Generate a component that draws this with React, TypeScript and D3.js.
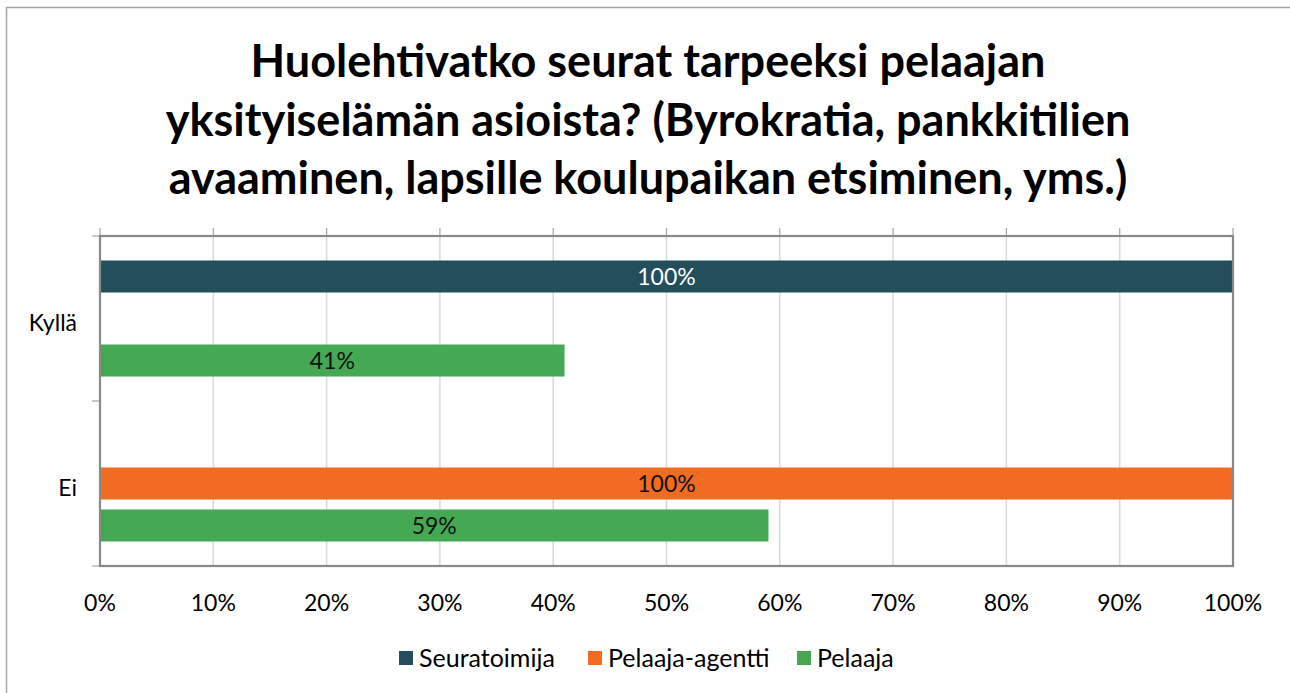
import React from "react";
import * as d3 from "d3";

const categories = ["Kyllä", "Ei"];
const seriesNames = ["Seuratoimija", "Pelaaja-agentti", "Pelaaja"];
const seriesColors = ["#234E5C", "#F26B23", "#45A853"];
const labelColors = ["#FFFFFF", "#111111", "#111111"];
const seuratoimija: (number | null)[] = [100, null];
const pelaajaAgentti: (number | null)[] = [null, 100];
const pelaaja: (number | null)[] = [41, 59];
const xTicks = [0, 10, 20, 30, 40, 50, 60, 70, 80, 90, 100];
const titleLines = [
  "Huolehtivatko seurat tarpeeksi pelaajan",
  "yksityiselämän asioista? (Byrokratia, pankkitilien",
  "avaaminen, lapsille koulupaikan etsiminen, yms.)",
];

const W = 1290;
const H = 693;
const FONT = "Lato, 'Open Sans', sans-serif";
const FS = 23;

export default function App() {
  const left = 100, right = 1233, top = 236, bottom = 566;
  const x = d3.scaleLinear().domain([0, 100]).range([left, right]);
  const y0 = d3.scaleBand<string>().domain(categories).range([top, bottom]).padding(0);
  const y1 = d3
    .scaleBand<string>()
    .domain(seriesNames)
    .range([0, y0.bandwidth()])
    .paddingInner(0.238)
    .paddingOuter(0.583);
  const seriesValues = [seuratoimija, pelaajaAgentti, pelaaja];

  const legendItems = [
    { x: 399, textX: 419 },
    { x: 588, textX: 608 },
    { x: 797, textX: 817 },
  ];

  return (
    <svg width={W} height={H} style={{ position: "absolute", left: 0, top: 0, background: "#fff" }}>
      <rect x={6.5} y={7.5} width={W} height={H} fill="#fff" stroke="#a6a6a6" strokeWidth={1.5} />
      {titleLines.map((t, i) => (
        <text
          key={i}
          x={648}
          y={77 + i * 58.5}
          textAnchor="middle"
          fontFamily={FONT}
          fontWeight="bold"
          fontSize={45}
          fill="#000"
        >
          {t}
        </text>
      ))}
      {/* gridlines */}
      {xTicks.map((t) => (
        <line key={"g" + t} x1={x(t)} x2={x(t)} y1={top} y2={bottom} stroke="#d9d9d9" strokeWidth={1.5} />
      ))}
      {/* top ticks */}
      {xTicks.map((t) => (
        <line key={"tt" + t} x1={x(t)} x2={x(t)} y1={top - 8} y2={top} stroke="#a6a6a6" strokeWidth={1.2} />
      ))}
      {/* left ticks */}
      {[top, top + y0.bandwidth(), bottom].map((v, i) => (
        <line key={"lt" + i} x1={left - 8} x2={left} y1={v} y2={v} stroke="#a6a6a6" strokeWidth={1.2} />
      ))}
      {/* bars */}
      {categories.map((c, ci) =>
        seriesNames.map((s, si) => {
          const v = seriesValues[si][ci];
          if (v === null || v === undefined) return null;
          const by = (y0(c) as number) + (y1(s) as number);
          const bh = y1.bandwidth();
          return (
            <g key={c + s}>
              <rect x={x(0)} y={by} width={x(v) - x(0)} height={bh} fill={seriesColors[si]} />
              <text
                x={(x(0) + x(v)) / 2}
                y={by + bh / 2}
                dy="0.36em"
                textAnchor="middle"
                fontFamily={FONT}
                fontSize={FS}
                fill={labelColors[si]}
              >
                {v}%
              </text>
            </g>
          );
        })
      )}
      {/* plot border */}
      <rect x={left} y={top} width={right - left} height={bottom - top} fill="none" stroke="#898989" strokeWidth={2.2} />
      {/* category labels */}
      {categories.map((c) => (
        <text
          key={c}
          x={77}
          y={(y0(c) as number) + y0.bandwidth() / 2 + 4}
          dy="0.36em"
          textAnchor="end"
          fontFamily={FONT}
          fontSize={FS}
          fill="#000"
        >
          {c}
        </text>
      ))}
      {/* x tick labels */}
      {xTicks.map((t) => (
        <text
          key={"xl" + t}
          x={x(t)}
          y={603}
          dy="0.36em"
          textAnchor="middle"
          fontFamily={FONT}
          fontSize={FS}
          fill="#000"
        >
          {t}%
        </text>
      ))}
      {/* legend */}
      {seriesNames.map((s, i) => (
        <g key={"lg" + s}>
          <rect x={legendItems[i].x} y={651} width={14} height={14} fill={seriesColors[i]} />
          <text x={legendItems[i].textX} y={658} dy="0.36em" fontFamily={FONT} fontSize={25} fill="#000">
            {s}
          </text>
        </g>
      ))}
    </svg>
  );
}
